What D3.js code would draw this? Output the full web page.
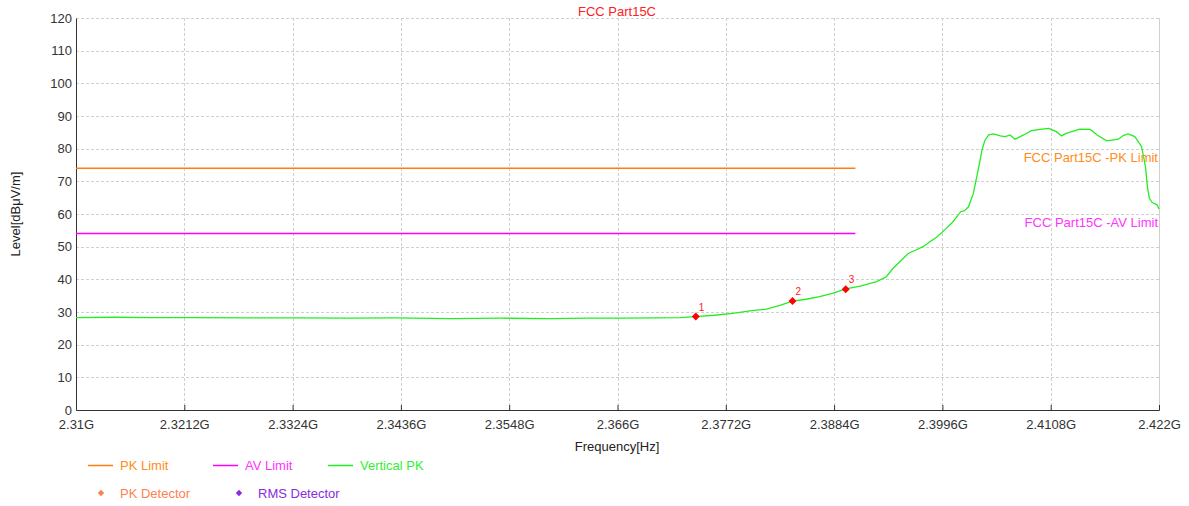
<!DOCTYPE html>
<html><head><meta charset="utf-8">
<script src="https://cdn.jsdelivr.net/npm/d3@7"></script>
<style>
body{margin:0;background:#fff;}
text{font-family:"Liberation Sans",Arial,sans-serif;}
</style></head>
<body>
<svg id="c" width="1189" height="506"></svg>
<script>
const title = "FCC Part15C";
const xTicks = [2.31,2.3212,2.3324,2.3436,2.3548,2.366,2.3772,2.3884,2.3996,2.4108,2.422];
const xTickLabels = ["2.31G","2.3212G","2.3324G","2.3436G","2.3548G","2.366G","2.3772G","2.3884G","2.3996G","2.4108G","2.422G"];
const yTicks = [0,10,20,30,40,50,60,70,80,90,100,110,120];
const pkLimit = [[2.31,74],[2.3906,74]];
const avLimit = [[2.31,54],[2.3906,54]];
const traceFreq = [2.3100,2.3140,2.3177,2.3220,2.3280,2.3330,2.3383,2.3430,2.3487,2.3540,2.3590,2.3630,2.3663,2.3700,2.3725,2.3741,2.3760,2.3779,2.3799,2.3814,2.3828,2.3841,2.3855,2.3869,2.3883,2.3896,2.3911,2.3928,2.3938,2.3945,2.3952,2.3961,2.3968,2.3976,2.3983,2.3990,2.4000,2.4006,2.4011,2.4015,2.4019,2.4023,2.4028,2.4033,2.4037,2.4040,2.4044,2.4049,2.4056,2.4061,2.4066,2.4071,2.4080,2.4088,2.4099,2.4106,2.4114,2.4119,2.4124,2.4130,2.4138,2.4149,2.4156,2.4166,2.4178,2.4183,2.4188,2.4195,2.4202,2.4206,2.4208,2.4210,2.4213,2.4218,2.4220];
const traceLevel = [28.3,28.4,28.3,28.3,28.2,28.2,28.1,28.2,28.0,28.1,28.0,28.1,28.1,28.2,28.3,28.6,29.0,29.6,30.4,30.9,32.0,33.3,33.9,34.7,35.8,37.1,37.9,39.3,40.8,43.4,45.4,48.0,48.9,50.0,51.5,52.9,55.6,57.3,59.2,60.7,61.0,62.2,66.3,73.5,79.6,82.6,84.2,84.5,83.9,83.7,84.2,82.9,84.2,85.5,86.0,86.2,85.2,83.9,84.7,85.2,86.0,85.9,84.2,82.4,82.9,84.0,84.5,83.7,80.6,74.5,68.4,64.8,63.5,62.8,61.5];
const markerNames = ["1","2","3"];
const markerFreq = [2.3741,2.3841,2.3896];
const markerLevel = [28.6,33.4,37.0];
const legendRow1 = ["PK Limit","AV Limit","Vertical PK"];
const legendRow2 = ["PK Detector","RMS Detector"];

const svg = d3.select("#c");
const L=76, R=1159, T=18, B=410;
const x = d3.scaleLinear().domain([2.31,2.422]).range([L,R]);
const y = d3.scaleLinear().domain([0,120]).range([B,T]);

// grid
const g = svg.append("g");
g.selectAll(".hg").data(yTicks.slice(1)).join("line")
  .attr("x1",L).attr("x2",R).attr("y1",d=>Math.round(y(d))+0.5).attr("y2",d=>Math.round(y(d))+0.5)
  .attr("stroke","#d0d0d0").attr("stroke-dasharray","3,2");
g.selectAll(".vg").data(xTicks.slice(1,-1)).join("line")
  .attr("x1",d=>Math.round(x(d))+0.5).attr("x2",d=>Math.round(x(d))+0.5).attr("y1",T).attr("y2",B)
  .attr("stroke","#d0d0d0").attr("stroke-dasharray","3,2");
svg.append("line").attr("x1",R+0.5).attr("x2",R+0.5).attr("y1",T).attr("y2",B).attr("stroke","#d0d0d0");

// axes
const xAxis = d3.axisBottom(x).tickValues(xTicks).tickFormat((d,i)=>xTickLabels[i]).tickSize(-5).tickPadding(10);
const ax = svg.append("g").attr("transform",`translate(0,${B})`).call(xAxis);
ax.select(".domain").attr("stroke","#333");
ax.selectAll(".tick line").attr("stroke","#333");
ax.selectAll("text").attr("font-size",13).attr("fill","#333");
const yAxis = d3.axisLeft(y).tickValues(yTicks).tickSize(0).tickPadding(4);
const ay = svg.append("g").attr("transform",`translate(${L},0)`).call(yAxis);
ay.select(".domain").attr("stroke","#333");
ay.selectAll("text").attr("font-size",13).attr("fill","#333");

// limit lines
const line = d3.line().x(d=>x(d[0])).y(d=>y(d[1]));
svg.append("path").datum(pkLimit).attr("d",line).attr("fill","none").attr("stroke","#ff7f0e").attr("stroke-width",1.5);
svg.append("path").datum(avLimit).attr("d",line).attr("fill","none").attr("stroke","#ff00ff").attr("stroke-width",1.5);
// trace
const trace = traceFreq.map((f,i)=>[f,traceLevel[i]]);
svg.append("path").datum(trace).attr("d",line).attr("fill","none").attr("stroke","#22ee22").attr("stroke-width",1.3);

// markers (rotated squares)
const diamond = d3.symbol().type(d3.symbolSquare).size(32);
markerFreq.forEach((f,i)=>{
  svg.append("path").attr("d",diamond).attr("transform",`translate(${x(f)},${y(markerLevel[i])}) rotate(45)`).attr("fill","#ff0000");
  svg.append("text").attr("x",x(f)+3).attr("y",y(markerLevel[i])-6).attr("font-size",10).attr("fill","#ff2020").text(markerNames[i]);
});

// limit labels
svg.append("text").attr("x",R-1).attr("y",162).attr("text-anchor","end").attr("font-size",13).attr("fill","#ff8c1a").text("FCC Part15C -PK Limit");
svg.append("text").attr("x",R-1).attr("y",227).attr("text-anchor","end").attr("font-size",13).attr("fill","#ff33ff").text("FCC Part15C -AV Limit");

// titles
svg.append("text").attr("x",617).attr("y",16).attr("text-anchor","middle").attr("font-size",13).attr("fill","#ff2020").text(title);
svg.append("text").attr("x",617).attr("y",451).attr("text-anchor","middle").attr("font-size",13).attr("fill","#222").text("Frequency[Hz]");
svg.append("text").attr("transform","translate(20,214) rotate(-90)").attr("text-anchor","middle").attr("font-size",13).attr("fill","#222").text("Level[dBμV/m]");

// legend
const lcol = ["#ff7f0e","#ff00ff","#22ee22"];
const ltxt = ["#ff8c1a","#ff33ff","#33ee33"];
const lx = [88,213,328];
legendRow1.forEach((t,i)=>{
  svg.append("line").attr("x1",lx[i]).attr("x2",lx[i]+25).attr("y1",465.5).attr("y2",465.5).attr("stroke",lcol[i]).attr("stroke-width",1.5);
  svg.append("text").attr("x",lx[i]+32).attr("y",470).attr("font-size",13).attr("fill",ltxt[i]).text(t);
});
const dcol = ["#ff7f50","#8a2be2"];
const dx = [101,239];
const small = d3.symbol().type(d3.symbolSquare).size(20);
legendRow2.forEach((t,i)=>{
  svg.append("path").attr("d",small).attr("transform",`translate(${dx[i]},${493}) rotate(45)`).attr("fill",dcol[i]);
  svg.append("text").attr("x",dx[i]+19).attr("y",498).attr("font-size",13).attr("fill",dcol[i]).text(t);
});
</script>
</body></html>
